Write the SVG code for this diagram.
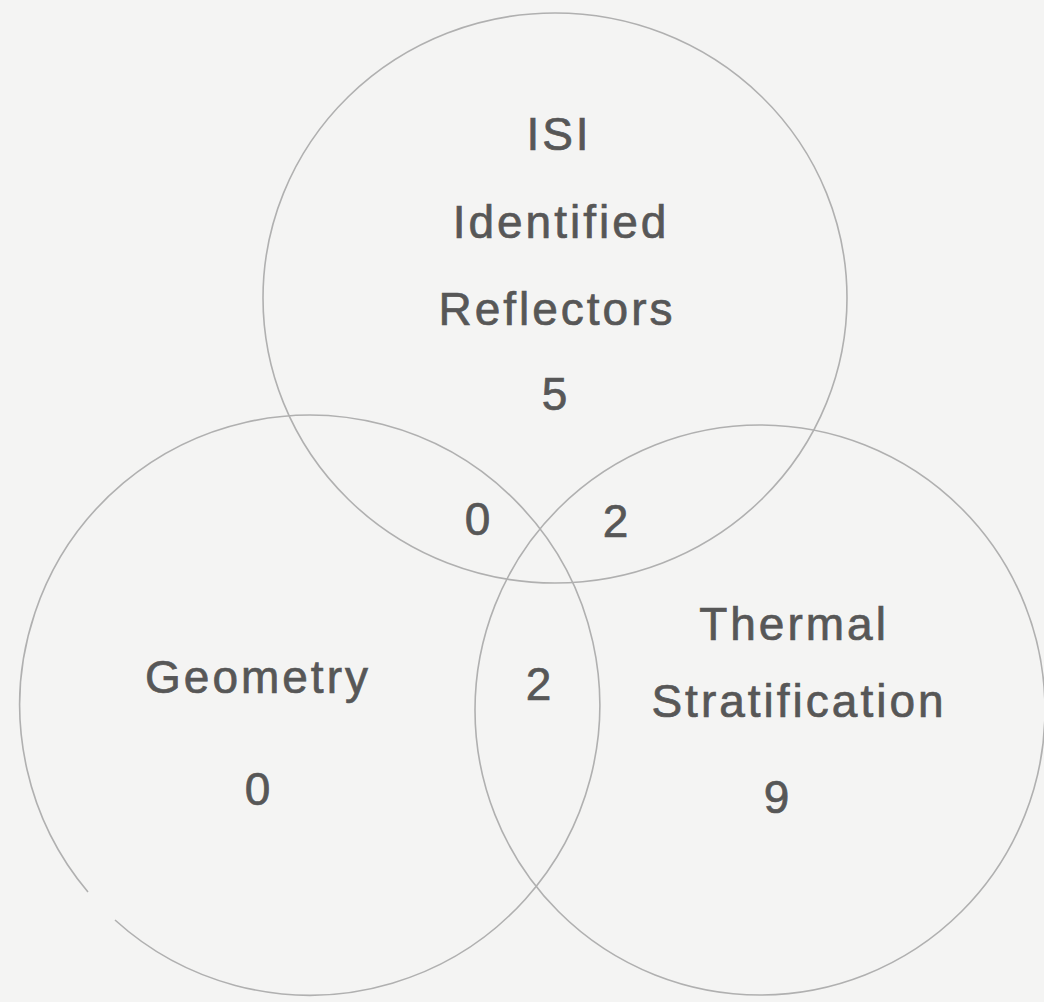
<svg xmlns="http://www.w3.org/2000/svg" width="1044" height="1002" viewBox="0 0 1044 1002">
<style>
.c{fill:none;stroke:#b0b0b0;stroke-width:1.6}
.t{font-family:"Liberation Sans",Arial,sans-serif;font-size:46px;fill:#575757;stroke:#575757;stroke-width:0.7;text-anchor:middle;letter-spacing:3px}
</style>
<rect width="1044" height="1002" fill="#f4f4f3"/>
<g id="isi"><ellipse class="c" cx="555" cy="298" rx="292" ry="285"/>
<text class="t" x="559" y="150">ISI</text>
<text class="t" x="561" y="238">Identified</text>
<text class="t" x="557" y="325">Reflectors</text>
<text class="t" x="556" y="410">5</text></g>
<g id="geometry"><path class="c" d="M 115 920 A 290 290 0 1 0 88 892"/>
<text class="t" x="258" y="693">Geometry</text>
<text class="t" x="259" y="805">0</text></g>
<g id="thermal"><circle class="c" cx="760" cy="710" r="285"/>
<text class="t" x="794" y="640">Thermal</text>
<text class="t" x="799" y="717">Stratification</text>
<text class="t" x="778" y="813">9</text></g>
<g id="overlaps">
<text class="t" x="479" y="535">0</text>
<text class="t" x="617" y="537">2</text>
<text class="t" x="540" y="700">2</text>
</g>
</svg>
